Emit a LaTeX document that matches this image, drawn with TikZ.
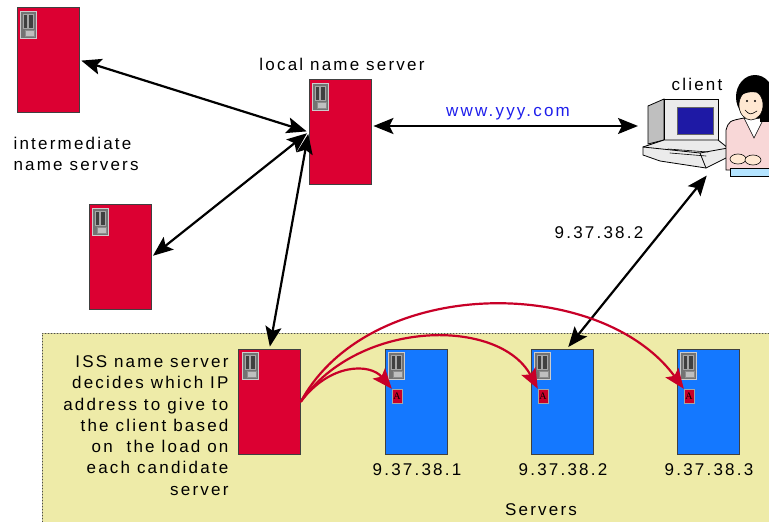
\documentclass[tikz,border=0pt]{standalone}
\usepackage{fontspec}
\setmainfont{Liberation Sans}[LetterSpace=13]
\newfontfamily\tagfont{Liberation Serif}
\usepackage{tikz}
\usetikzlibrary{arrows.meta}
\usepackage{xcolor}
\definecolor{srvred}{RGB}{220,0,50}
\definecolor{srvblue}{RGB}{20,120,255}
\definecolor{zone}{RGB}{238,235,168}
\definecolor{tagred}{RGB}{200,0,40}
\definecolor{urlblue}{RGB}{30,30,235}
\definecolor{skin}{RGB}{255,232,210}
\definecolor{blouse}{RGB}{248,215,215}

\begin{document}
\begin{tikzpicture}[x=1pt,y=-1pt,>={Stealth[length=20pt,width=16pt,inset=4pt]},line cap=round,
  font=\fontsize{17}{21.3}\selectfont,
  srv/.style={draw=black!75,line width=0.8pt,minimum width=62pt,minimum height=105pt,inner sep=0pt},
  redsrv/.style={srv,fill=srvred},
  bluesrv/.style={srv,fill=srvblue},
  tag/.style={draw=black!35,fill=tagred,minimum width=10pt,minimum height=14pt,inner sep=0pt,
    font=\tagfont\fontsize{10}{10}\selectfont},
  link/.style={<->,line width=2.2pt,shorten <=2pt,shorten >=2pt},
  pick/.style={->,draw=tagred,line width=2.2pt}]
\useasboundingbox (0,0) rectangle (769,522);
\begin{scope}
\clip (0,0) rectangle (769,522);
% servers area
\fill[zone] (42,333) rectangle (775,530);
\draw[dotted,line width=1pt,black!70] (42,522) -- (42,333) -- (769,333);

% name servers
\node[redsrv] (inter1) at (48,60) {};
\node[redsrv] (inter2) at (120,257) {};
\node[redsrv] (local) at (340,132) {};
\node[redsrv] (iss) at (269.5,401.5) {};
% real servers
\node[bluesrv] (s1) at (416,401.5) {};
\node[bluesrv] (s2) at (562,401.5) {};
\node[bluesrv] (s3) at (708,401.5) {};

% little tower icon on every box
\foreach \n in {inter1,inter2,local,iss,s1,s2,s3} {
  \filldraw[fill=black!55,draw=black!20,line width=1pt] ([shift={(4,4)}]\n.north west) rectangle +(16,27);
  \filldraw[fill=black!75,draw=black!35,line width=0.5pt] ([shift={(7,7)}]\n.north west) rectangle +(4,14);
  \filldraw[fill=black!75,draw=black!35,line width=0.5pt] ([shift={(12,7)}]\n.north west) rectangle +(5,14);
  \filldraw[fill=black!25,draw=black!45,line width=0.5pt] ([shift={(9,23)}]\n.north west) rectangle +(9,6);
}

% A records
\node[tag] (a1) at (397,396) {A};
\node[tag] (a2) at (543,396) {A};
\node[tag] (a3) at (689,396) {A};

% client workstation
\filldraw[fill=black!25,line width=0.8pt] (648,106) -- (664,99) -- (664,140) -- (648,144) -- cycle;
\filldraw[fill=black!8,line width=0.8pt] (664,99) rectangle (718,140);
\filldraw[fill={rgb,255:red,30;green,25;blue,165},draw=black!60] (677,107) rectangle (713,134);
\filldraw[fill=black!8,line width=0.8pt] (643,147) -- (664,140) -- (718,140) -- (728,148)
  -- (728,157) -- (706,168) -- (660,161) -- (643,155) -- cycle;
\draw[line width=0.8pt] (643,147) -- (700,153) -- (728,148);
\draw[line width=0.6pt] (668,149) -- (708,152) (670,153) -- (706,156);
\draw[line width=0.8pt] (700,153) -- (706,168);
% user
\filldraw[fill=blouse,line width=0.8pt] (726,170) -- (726,130) .. controls (729,121) .. (744,118)
  -- (775,118) -- (775,170) -- cycle;
\filldraw[fill=white,line width=0.6pt] (744,118) -- (754,138) -- (764,118) -- cycle;
\fill[black] (755,97) ellipse [x radius=19,y radius=22];
\fill[black] (760,100) rectangle (775,122);
\filldraw[fill=skin,line width=0.6pt] (751,105) ellipse [x radius=12,y radius=15];
\fill[black] (738,92) .. controls (742,78) and (758,74) .. (770,84) -- (766,95)
  .. controls (758,92) and (748,90) .. (740,96) -- cycle;
\draw[line width=0.6pt] (745,110) .. controls (750,115) .. (757,111);
\fill[black] (747,101) circle (1.2) (755,101) circle (1.2);
\filldraw[fill={rgb,255:red,180;green,228;blue,255},line width=0.6pt] (730,168) rectangle (775,176);
\filldraw[fill=skin,line width=0.6pt] (738,159) ellipse [x radius=8,y radius=5];
\filldraw[fill=skin,line width=0.6pt] (753,160) ellipse [x radius=8,y radius=5];
\coordinate (pcl) at (640,126);
\coordinate (pcb) at (708,174);

% name resolution path
\draw[link] (inter1.east) -- (local.west);
\draw[link] (inter2.east) -- (local.west);
\draw[link] (local.west) -- (iss.north);
\draw[link] (local.east |- pcl) -- (pcl);
\draw[link] (pcb) -- ([xshift=5pt]s2.north);

% load based choice
\draw[pick] (iss.east) .. controls (330,363) and (370,363) .. (a1.north west);
\draw[pick] (iss.east) .. controls (360,318) and (500,318) .. (a2.north west);
\draw[pick] (iss.east) .. controls (370,275) and (600,275) .. (a3.north west);
\end{scope}

% labels
\node (lblinter) [anchor=west,align=left] at (10,154) {intermediate\\name servers};
\node (lbllocal) at (342,64) {local name server};
\node (lblurl) [text=urlblue] at (508,114) {www.yyy.com};
\node (lblclient) at (697,84) {client};
\node (lblip) at (599,233) {9.37.38.2};
\node (lbliss) [anchor=north east,align=right] at (232,352)
  {ISS name server\\decides which IP\\address to give to\\the client based\\on~ the load on\\each candidate\\server};
\node (lbls1) at (417,470) {9.37.38.1};
\node (lbls2) at (563,470) {9.37.38.2};
\node (lbls3) at (709,470) {9.37.38.3};
\node (lblservers) at (541,510) {Servers};
\end{tikzpicture}
\end{document}
